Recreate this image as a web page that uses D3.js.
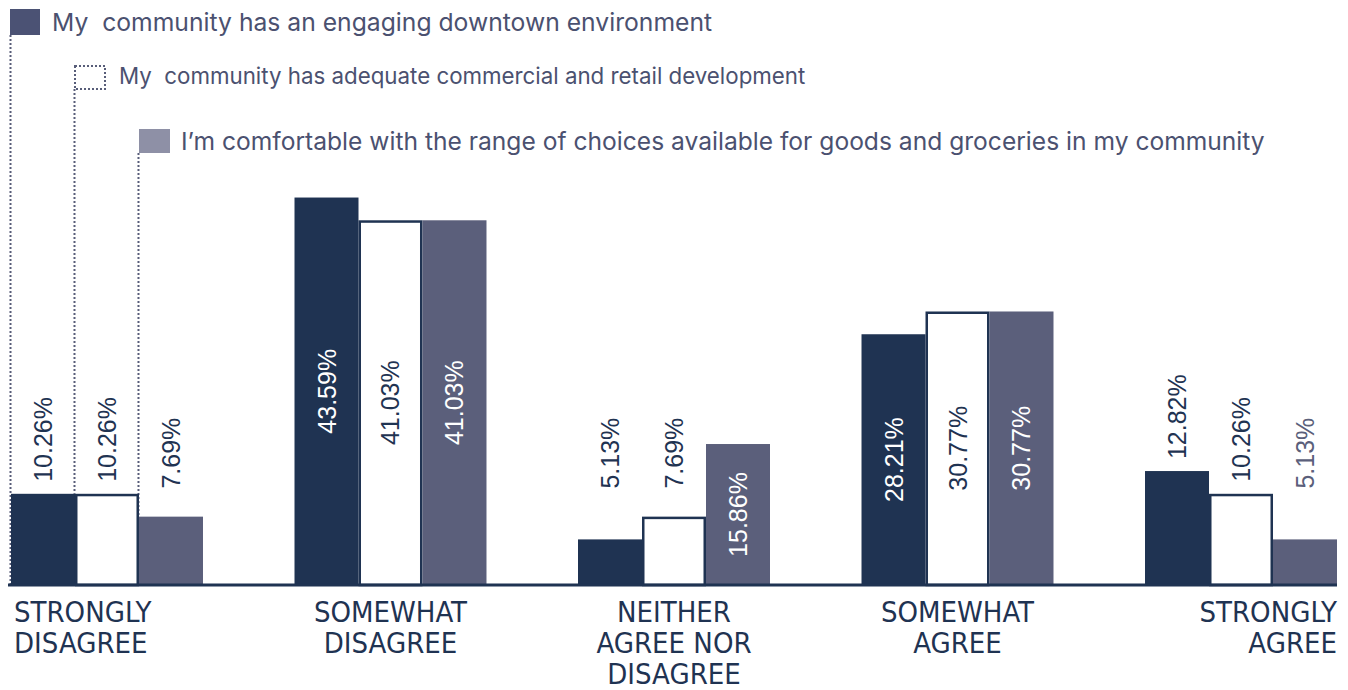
<!DOCTYPE html>
<html>
<head>
<meta charset="utf-8">
<script src="https://cdn.jsdelivr.net/npm/d3@7"></script>
<style>
  html, body { margin: 0; padding: 0; background: #ffffff; }
  svg { display: block; }
  .legend-text { font-family: Inter, "Liberation Sans", sans-serif; fill: #4b5170; }
  .value { font-family: "Liberation Sans", Arial, sans-serif; font-size: 25px; }
  .cat { font-family: "Liberation Sans Narrow", "DejaVu Sans Condensed", "Liberation Sans", sans-serif; font-size: 29px; fill: #1f3352; }
</style>
</head>
<body>
<svg id="chart" width="1348" height="690"></svg>
<script>
// Survey response categories (x axis)
const categories = [
  ["STRONGLY", "DISAGREE"],
  ["SOMEWHAT", "DISAGREE"],
  ["NEITHER", "AGREE NOR", "DISAGREE"],
  ["SOMEWHAT", "AGREE"],
  ["STRONGLY", "AGREE"]
];

// Statements (series)
const seriesNames = [
  "My  community has an engaging downtown environment",
  "My  community has adequate commercial and retail development",
  "I\u2019m comfortable with the range of choices available for goods and groceries in my community"
];

// Percent of respondents per category, one array per statement
const downtownValues   = [10.26, 43.59, 5.13, 28.21, 12.82];
const commercialValues = [10.26, 41.03, 7.69, 30.77, 10.26];
const groceriesValues  = [7.69, 41.03, 15.86, 30.77, 5.13];

const seriesValues = [downtownValues, commercialValues, groceriesValues];

const navy = "#1f3352";
const slate = "#5b5f7b";
const barFill = [navy, "#ffffff", slate];
const labelInside = ["#ffffff", navy, "#ffffff"];
const swatchFill = ["#4b5274", "none", "#8e90a6"];

const svg = d3.select("#chart");

const baseline = 585;
const x0 = d3.scaleBand()
  .domain(d3.range(categories.length))
  .range([11, 1337])
  .paddingInner(0.3228)
  .paddingOuter(0);
const x1 = d3.scaleBand()
  .domain(d3.range(seriesValues.length))
  .range([0, x0.bandwidth()]);
const y = d3.scaleLinear().domain([0, 45]).range([baseline, 185]);

// Legend: swatch + text, stepped in from the left
const legend = [
  { sx: 10, sy: 9, sw: 30, sh: 26, tx: 52, ty: 31, size: 24.7 },
  { sx: 75, sy: 66, sw: 30, sh: 23, tx: 119, ty: 84, size: 22.3 },
  { sx: 139, sy: 129, sw: 31, sh: 24, tx: 181, ty: 150, size: 24.6 }
];

// Dotted leader lines from each swatch down to its series' first bar
const leaders = svg.append("g");
legend.forEach((l, i) => {
  const bx = x0(0) + x1(i);
  leaders.append("line")
    .attr("x1", bx - 0.5).attr("x2", bx - 0.5)
    .attr("y1", l.sy + l.sh).attr("y2", i === 0 ? baseline : y(seriesValues[i][0]))
    .attr("stroke", "#585d79")
    .attr("stroke-width", 2)
    .attr("stroke-dasharray", "2,2");
});

const lg = svg.append("g");
legend.forEach((l, i) => {
  const r = lg.append("rect")
    .attr("x", l.sx).attr("y", l.sy)
    .attr("width", l.sw).attr("height", l.sh);
  if (i === 1) {
    r.attr("fill", "none").attr("stroke", "#585d79")
      .attr("stroke-width", 2).attr("stroke-dasharray", "2,2");
  } else {
    r.attr("fill", swatchFill[i]);
  }
  lg.append("text")
    .attr("class", "legend-text")
    .attr("x", l.tx).attr("y", l.ty)
    .attr("font-size", l.size)
    .style("white-space", "pre")
    .text(seriesNames[i]);
});

// Bars
const groups = svg.append("g").selectAll("g")
  .data(categories.map((c, ci) => ci))
  .join("g")
  .attr("transform", ci => `translate(${x0(ci)},0)`);

groups.each(function(ci) {
  const g = d3.select(this);
  seriesValues.forEach((vals, si) => {
    const v = vals[ci];
    const bx = x1(si);
    const bw = x1.bandwidth();
    if (si === 1) {
      g.append("rect")
        .attr("x", bx + 1.25).attr("y", y(v) + 1.25)
        .attr("width", bw - 2.5).attr("height", baseline - y(v) - 1.25)
        .attr("fill", "#ffffff")
        .attr("stroke", navy).attr("stroke-width", 2.5);
    } else {
      g.append("rect")
        .attr("x", bx).attr("y", y(v))
        .attr("width", bw).attr("height", baseline - y(v))
        .attr("fill", barFill[si]);
    }
  });
});

// Value labels: rotated, centred inside tall bars, above short ones
groups.each(function(ci) {
  const g = d3.select(this);
  seriesValues.forEach((vals, si) => {
    const v = vals[ci];
    const cx = x1(si) + x1.bandwidth() / 2;
    const inside = v >= 15;
    let ty, anchor, fill;
    if (inside) {
      ty = (y(v) + baseline) / 2;
      anchor = "middle";
      fill = labelInside[si];
    } else {
      ty = y(Math.max(v, 9.5)) - 12;
      anchor = "start";
      fill = (si === 2 && ci === 4) ? slate : navy;
    }
    g.append("text")
      .attr("class", "value")
      .attr("transform", `translate(${cx + 9},${ty}) rotate(-90)`)
      .attr("text-anchor", anchor)
      .attr("fill", fill)
      .text(v.toFixed(2) + "%");
  });
});

// Baseline
svg.append("line")
  .attr("x1", 8).attr("x2", 1337)
  .attr("y1", baseline).attr("y2", baseline)
  .attr("stroke", navy).attr("stroke-width", 3);

// Category labels
const anchors = ["start", "middle", "middle", "middle", "end"];
categories.forEach((lines, ci) => {
  let tx;
  if (anchors[ci] === "start") tx = x0(ci) + 3;
  else if (anchors[ci] === "end") tx = x0(ci) + x0.bandwidth();
  else tx = x0(ci) + x0.bandwidth() / 2;
  const t = svg.append("text")
    .attr("class", "cat")
    .attr("text-anchor", anchors[ci])
    .attr("x", tx).attr("y", 622);
  lines.forEach((ln, li) => {
    t.append("tspan").attr("x", tx).attr("dy", li === 0 ? 0 : 31).text(ln);
  });
});
</script>
</body>
</html>
